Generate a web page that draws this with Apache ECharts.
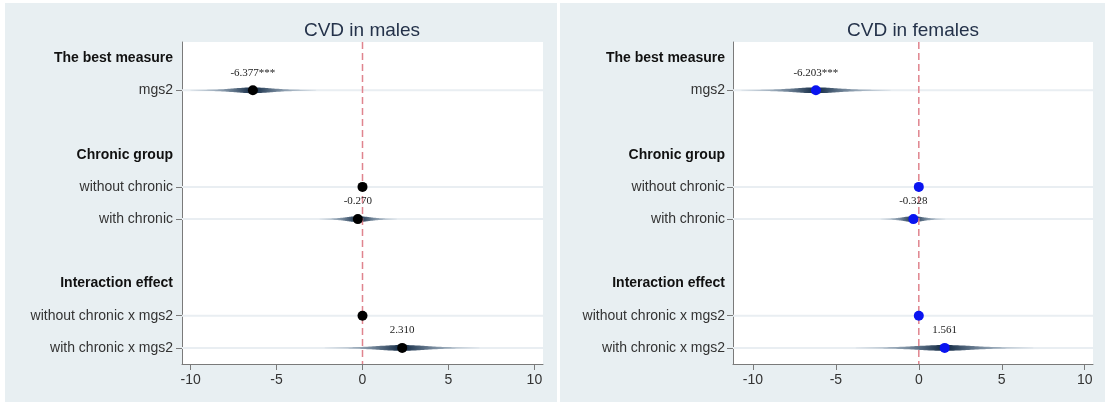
<!DOCTYPE html>
<html>
<head>
<meta charset="utf-8">
<script src="https://cdn.jsdelivr.net/npm/echarts@6/dist/echarts.min.js"></script>
<style>
html,body{margin:0;padding:0;background:#fff;}
#c{width:1105px;height:402px;}
</style>
</head>
<body>
<div id="c"></div>
<script>
// ---------- DATA ----------
const rowLabels = ['The best measure','mgs2','','Chronic group','without chronic','with chronic',' ','Interaction effect','without chronic x mgs2','with chronic x mgs2'];
const headerRows = ['The best measure','Chronic group','Interaction effect'];
const itemRows = [1,4,5,8,9];
const xTicks = [-10,-5,0,5,10];
const refLineX = [0];

const maleEst    = [-6.377, 0, -0.270, 0, 2.310];
const maleLo     = [-10.0, null, -2.5, null, -2.2];
const maleHi     = [-2.7, null, 2.0, null, 6.8];
const maleLabels = ['-6.377***','','-0.270','','2.310'];

const femaleEst    = [-6.203, 0, -0.328, 0, 1.561];
const femaleLo     = [-10.7, null, -2.3, null, -3.8];
const femaleHi     = [-1.7, null, 1.6, null, 6.9];
const femaleLabels = ['-6.203***','','-0.328','','1.561'];

const titles = ['CVD in males','CVD in females'];

// ---------- CHART ----------
const chart = echarts.init(document.getElementById('c'), null, {renderer:'canvas'});

function yAxis(gi, margin){
  return {
    type:'category', gridIndex:gi, data:rowLabels, inverse:true, boundaryGap:true,
    axisLine:{show:true, onZero:false, lineStyle:{color:'#7a7a7a', width:1}},
    axisTick:{show:true, alignWithLabel:true, length:6, lineStyle:{color:'#7a7a7a'},
      interval:function(i){ return itemRows.indexOf(i) >= 0; }},
    axisLabel:{interval:0, margin:margin,
      formatter:function(v){ return headerRows.indexOf(v) >= 0 ? '{h|'+v+'}' : '{n|'+v+'}'; },
      rich:{
        h:{fontFamily:'Liberation Sans, Arial', fontSize:14, fontWeight:'bold', color:'#111'},
        n:{fontFamily:'Liberation Sans, Arial', fontSize:14, color:'#333'}
      }},
    splitLine:{show:false}
  };
}
function xAxis(gi, mn, mx){
  return {
    type:'value', gridIndex:gi, min:mn, max:mx,
    axisLine:{show:true, onZero:false, lineStyle:{color:'#7a7a7a', width:1}},
    axisTick:{show:true, length:6, customValues:xTicks, lineStyle:{color:'#7a7a7a'}},
    axisLabel:{customValues:xTicks, margin:9, fontFamily:'Liberation Sans, Arial', fontSize:14, color:'#333'},
    splitLine:{show:false}
  };
}

function spindleData(est, lo, hi){
  const out = [];
  est.forEach((e,i)=>{ if(lo[i]!==null) out.push([e, itemRows[i], lo[i], hi[i]]); });
  return out;
}
function dotData(est, labels){
  return est.map((e,i)=>({value:[e, itemRows[i]], label:{show: labels[i] !== '', formatter: labels[i]}}));
}

function renderSpindle(params, api){
  const est = api.value(0), yi = api.value(1), lo = api.value(2), hi = api.value(3);
  const N = 80;
  const top = [], bot = [];
  for(let k=0;k<=N;k++){
    const v = lo + (hi-lo)*k/N;
    const u = v < est ? (est - v)/(est - lo) : (v - est)/(hi - est);
    const h = 0.6 + 2.3*Math.exp(-(u*u)/0.16);
    const p = api.coord([v, yi]);
    top.push([p[0], p[1]-h]);
    bot.unshift([p[0], p[1]+h]);
  }
  const p = (est-lo)/(hi-lo);
  return {
    type:'polygon',
    shape:{points: top.concat(bot)},
    style:{
      fill:{type:'linear', x:0, y:0, x2:1, y2:0, colorStops:[
        {offset:0, color:'rgba(80,110,140,0.06)'},
        {offset:p*0.5, color:'rgba(45,75,105,0.5)'},
        {offset:p, color:'rgba(12,35,62,1)'},
        {offset:p+(1-p)*0.5, color:'rgba(45,75,105,0.5)'},
        {offset:1, color:'rgba(80,110,140,0.06)'}
      ]}
    }
  };
}
function renderRowLine(params, api){
  const cs = params.coordSys;
  const p = api.coord([0, api.value(1)]);
  return {type:'line', shape:{x1:cs.x, y1:p[1], x2:cs.x+cs.width, y2:p[1]},
    style:{stroke:'#e9eef2', lineWidth:2}};
}
function renderRefLine(params, api){
  const cs = params.coordSys;
  const p = api.coord([api.value(0), 0]);
  return {type:'line', shape:{x1:p[0], y1:cs.y, x2:p[0], y2:cs.y+cs.height},
    style:{stroke:'#e0848e', lineWidth:1.5, lineDash:[7,4]}};
}

const panels = [
  {est:maleEst, lo:maleLo, hi:maleHi, labels:maleLabels, color:'#000000'},
  {est:femaleEst, lo:femaleLo, hi:femaleHi, labels:femaleLabels, color:'#0a14f0'}
];

const series = [];
panels.forEach((pn, gi)=>{
  series.push({type:'custom', xAxisIndex:gi, yAxisIndex:gi, z:1, silent:true,
    renderItem:renderRowLine, data:itemRows.map(r=>[0,r]), encode:{x:0,y:1}});
  series.push({type:'custom', xAxisIndex:gi, yAxisIndex:gi, z:2, silent:true,
    renderItem:renderSpindle, data:spindleData(pn.est, pn.lo, pn.hi), encode:{x:[0,2,3], y:1}});
  series.push({type:'custom', xAxisIndex:gi, yAxisIndex:gi, z:3, silent:true,
    renderItem:renderRefLine, data:refLineX.map(v=>[v,0]), encode:{x:0,y:1}});
  series.push({type:'scatter', xAxisIndex:gi, yAxisIndex:gi, z:4, silent:true,
    symbol:'circle', symbolSize:10, itemStyle:{color:pn.color, opacity:1},
    label:{position:'top', distance:7, fontFamily:'Liberation Serif, Times New Roman', fontSize:11, color:'#222'},
    data:dotData(pn.est, pn.labels)});
});

chart.setOption({
  animation:false,
  backgroundColor:'#ffffff',
  graphic:[
    {type:'rect', z:-10, silent:true, shape:{x:5, y:3, width:552, height:399}, style:{fill:'#e8eff2'}},
    {type:'rect', z:-10, silent:true, shape:{x:560, y:3, width:545, height:399}, style:{fill:'#e8eff2'}},
    {type:'text', x:362, y:31, style:{text:titles[0], fontFamily:'Liberation Sans, Arial', fontSize:19, fill:'#24324a', align:'center', verticalAlign:'middle'}},
    {type:'text', x:913, y:31, style:{text:titles[1], fontFamily:'Liberation Sans, Arial', fontSize:19, fill:'#24324a', align:'center', verticalAlign:'middle'}}
  ],
  grid:[
    {left:182, top:42, width:361, height:322, show:true, backgroundColor:'#ffffff', borderWidth:0},
    {left:733, top:42, width:360, height:322, show:true, backgroundColor:'#ffffff', borderWidth:0}
  ],
  xAxis:[xAxis(0,-10.5,10.5), xAxis(1,-11.2,10.5)],
  yAxis:[yAxis(0,9), yAxis(1,8)],
  series:series
});
</script>
</body>
</html>
